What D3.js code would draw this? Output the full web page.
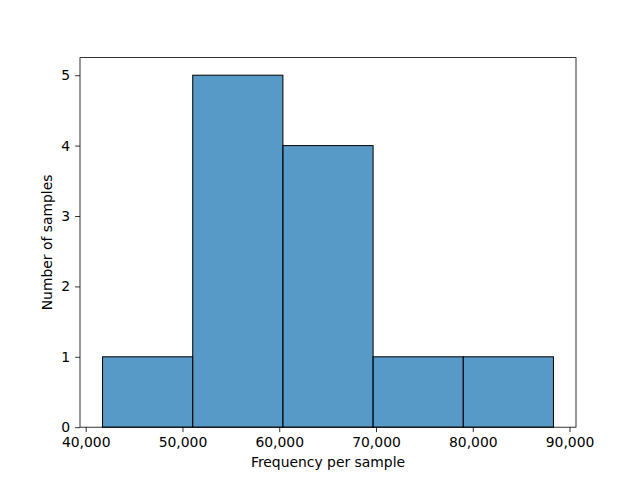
<!DOCTYPE html>
<html><head><meta charset="utf-8">
<script src="https://cdn.jsdelivr.net/npm/d3@7"></script>
<style>body{margin:0;background:#fff}svg{display:block}text{font-family:"DejaVu Sans",sans-serif}</style>
</head><body>
<svg id="c" width="640" height="480"></svg>
<script>
const binEdges = [41740, 51060, 60380, 69700, 79020, 88340];
const counts = [1, 5, 4, 1, 1];
const xTicks = [40000, 50000, 60000, 70000, 80000, 90000];
const yTicks = [0, 1, 2, 3, 4, 5];
const xLabel = "Frequency per sample";
const yLabel = "Number of samples";

const svg = d3.select("#c");
const L = 80, R = 576, T = 57.6, B = 427.2;
const span = binEdges[binEdges.length-1] - binEdges[0];
const x = d3.scaleLinear().domain([binEdges[0] - span*0.05, binEdges[binEdges.length-1] + span*0.05]).range([L, R]);
const y = d3.scaleLinear().domain([0, d3.max(counts)*1.05]).range([B, T]);

const bins = counts.map((c,i)=>({x0:binEdges[i], x1:binEdges[i+1], c}));
svg.append("g").selectAll("rect").data(bins).join("rect")
  .attr("x", d=>x(d.x0)).attr("y", d=>y(d.c))
  .attr("width", d=>x(d.x1)-x(d.x0)).attr("height", d=>y(0)-y(d.c))
  .attr("fill", "#1f77b4").attr("fill-opacity", 0.75)
  .attr("stroke", "#000").attr("stroke-width", 1);

const fmt = d3.format(",");
const xa = svg.append("g").attr("transform", `translate(0,${B})`)
  .call(d3.axisBottom(x).tickValues(xTicks).tickFormat(fmt).tickSize(4.9).tickPadding(4.9));
const ya = svg.append("g").attr("transform", `translate(${L},0)`)
  .call(d3.axisLeft(y).tickValues(yTicks).tickFormat(d3.format("d")).tickSize(4.9).tickPadding(4.9));
[xa, ya].forEach(a=>{
  a.select(".domain").remove();
  a.selectAll("line").attr("stroke","#000").attr("stroke-width",0.8);
  a.selectAll("text").attr("font-size","13.9px").attr("fill","#000").attr("font-family","DejaVu Sans, sans-serif");
});
svg.append("rect").attr("x",L).attr("y",T).attr("width",R-L).attr("height",B-T)
  .attr("fill","none").attr("stroke","#000").attr("stroke-width",0.8);

svg.append("text").attr("x",(L+R)/2).attr("y",467).attr("text-anchor","middle")
  .attr("font-size","13.9px").text(xLabel);
svg.append("text").attr("transform",`translate(52,${(T+B)/2}) rotate(-90)`).attr("text-anchor","middle")
  .attr("font-size","13.9px").text(yLabel);
</script>
</body></html>
